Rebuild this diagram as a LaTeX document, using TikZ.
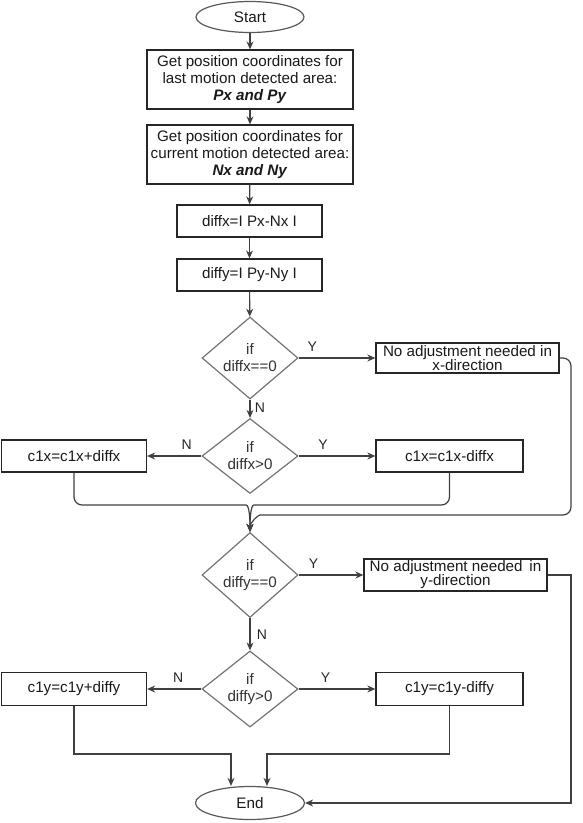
\documentclass[tikz,border=0pt]{standalone}
\usepackage{fontspec}
\setmainfont{Liberation Sans}
\usetikzlibrary{shapes.geometric,arrows.meta}

\tikzset{
    blok/.style={draw=black!85, line width=1.3pt, rectangle, inner sep=0pt, align=center, text=black!90},
    keuze/.style={draw=black!55, line width=1.2pt, diamond, inner sep=0pt, minimum width=96pt, minimum height=75pt, align=center, text=black!80},
    eind/.style={draw=black!65, line width=1.2pt, ellipse, inner sep=0pt, text=black!90},
    flow/.style={-{Stealth[length=8pt,width=7pt]}, line width=1.2pt, draw=black!75},
    jn/.style={font=\fontsize{14}{15}\selectfont, text=black!85}
}

\begin{document}
\begin{tikzpicture}[x=1pt, y=-1pt, font=\fontsize{15.2}{17}\selectfont]
    \useasboundingbox (0,0) rectangle (582,823);

    % begin en invoer
    \node[eind, minimum width=108pt, minimum height=31pt] (start) at (250,17) {Start};
    \node[blok, minimum width=206pt, minimum height=59pt] (last) at (250,79.5) {Get position coordinates for\\last motion detected area:\\\textbf{\textit{Px and Py}}};
    \node[blok, minimum width=206pt, minimum height=59pt] (curr) at (250,154.5) {Get position coordinates for\\current motion detected area:\\\textbf{\textit{Nx and Ny}}};
    \node[blok, minimum width=145pt, minimum height=32pt] (diffx) at (249.5,221) {diffx=I Px-Nx I};
    \node[blok, minimum width=145pt, minimum height=32pt] (diffy) at (249.5,275) {diffy=I Py-Ny I};

    % x-richting
    \node[keuze] (dx0) at (250,358) {if\\diffx==0};
    \node[blok, minimum width=183pt, minimum height=30pt] (nax) at (467.5,358) {No adjustment needed in\\[-3pt]x-direction};
    \node[keuze] (dxp) at (250,456) {if\\diffx>0};
    \node[blok, minimum width=145pt, minimum height=32pt] (addx) at (74,456) {c1x=c1x+diffx};
    \node[blok, minimum width=147pt, minimum height=32pt] (subx) at (449.5,456) {c1x=c1x-diffx};

    % y-richting
    \node[keuze] (dy0) at (250,575) {if\\diffy==0};
    \node[blok, minimum width=183pt, minimum height=32pt] (nay) at (455.5,575) {No adjustment needed\, in\\[-3pt]y-direction};
    \node[keuze] (dyp) at (250,689) {if\\diffy>0};
    \node[blok, minimum width=145pt, minimum height=33pt] (addy) at (74,689) {c1y=c1y+diffy};
    \node[blok, minimum width=147pt, minimum height=33pt] (suby) at (449.5,689) {c1y=c1y-diffy};
    \node[eind, minimum width=109pt, minimum height=33pt] (end) at (250,803) {End};

    % hulppunten
    \coordinate (rx) at (571,0);
    \coordinate (jl) at (231,754);
    \coordinate (jr) at (267,754);

    % pijlen bovenaan
    \draw[flow] (start) -- (last);
    \draw[flow] (last) -- (curr);
    \draw[flow] (curr) -- (diffx);
    \draw[flow] (diffx) -- (diffy);
    \draw[flow] (diffy) -- (dx0);

    % keuzes x
    \draw[flow] (dx0.east) -- (nax.west) node[jn, pos=0.18, above=3pt] {Y};
    \draw[flow] (dx0.south) -- (dxp.north) node[jn, pos=0.45, right=1pt] {N};
    \draw[flow] (dxp.west) -- (addx.east) node[jn, pos=0.27, above=3pt] {N};
    \draw[flow] (dxp.east) -- (subx.west) node[jn, pos=0.32, above=3pt] {Y};

    % samenkomen boven diffy==0
    \draw[flow, rounded corners=8pt] (addx.south) |- (238,505) to[out=0, in=90] (dy0.north);
    \draw[flow, rounded corners=8pt] (subx.south) |- (262,505) to[out=180, in=90] (dy0.north);
    \draw[flow, rounded corners=8pt] (nax.east) -| (rx |- 0,515) -- (268,515) to[out=180, in=90] (dy0.north);

    % keuzes y
    \draw[flow] (dy0.east) -- (nay.west) node[jn, pos=0.23, above=3pt] {Y};
    \draw[flow] (dy0.south) -- (dyp.north) node[jn, pos=0.5, right=3pt] {N};
    \draw[flow] (dyp.west) -- (addy.east) node[jn, pos=0.43, above=3pt] {N};
    \draw[flow] (dyp.east) -- (suby.west) node[jn, pos=0.35, above=3pt] {Y};

    % naar einde
    \draw[flow] (addy.south) |- (jl) -- (jl |- end.north);
    \draw[flow] (suby.south) |- (jr) -- (jr |- end.north);
    \draw[flow] (nay.east) -- (rx |- nay.east) |- (end.east);
\end{tikzpicture}
\end{document}
